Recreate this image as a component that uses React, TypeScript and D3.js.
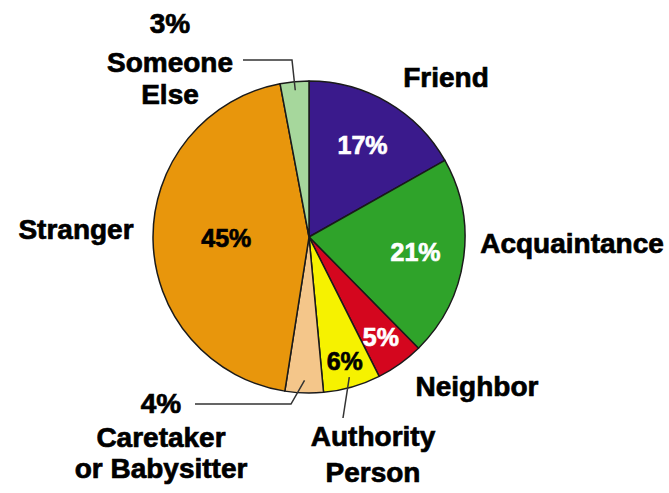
import { useEffect, useRef } from 'react';
import * as d3 from 'd3';

// slice order, clockwise from 12 o'clock
const categories = ['Friend', 'Acquaintance', 'Neighbor', 'Authority Person', 'Caretaker or Babysitter', 'Stranger', 'Someone Else'];
const percents = [17, 21, 5, 6, 4, 45, 3];
const colors = ['#3a1a8c', '#2fa32a', '#d4061e', '#f6f200', '#f4c68a', '#e8960c', '#a6d79c'];

// inner % labels (only for slices that show one inside)
const innerLabelColor = ['#ffffff', '#ffffff', '#ffffff', '#000000', null, '#000000', null];
const innerLabelRadius = [0.68, 0.69, 0.79, 0.83, 0, 0.53, 0];

interface Slice {
  name: string;
  value: number;
}

export default function App() {
  const svgRef = useRef<SVGSVGElement>(null);

  useEffect(() => {
    if (!svgRef.current) return;
    const svg = d3.select(svgRef.current);
    svg.selectAll('*').remove();

    const width = 669;
    const height = 493;
    const cx = 309;
    const cy = 237;
    const radius = 156;
    const font = "'Liberation Sans', Arial, sans-serif";

    const data: Slice[] = categories.map((c, i) => ({ name: c, value: percents[i] }));

    const pie = d3.pie<Slice>().value(d => d.value).sort(null);
    const arcs = pie(data);

    const arc = d3.arc<d3.PieArcDatum<Slice>>()
      .innerRadius(0)
      .outerRadius(radius);

    svg.append('rect').attr('width', width).attr('height', height).attr('fill', '#ffffff');

    const g = svg.append('g').attr('transform', `translate(${cx},${cy})`);

    // slices
    g.selectAll('path')
      .data(arcs)
      .join('path')
      .attr('d', arc)
      .attr('fill', (_, i) => colors[i])
      .attr('stroke', '#1a1a1a')
      .attr('stroke-width', 1.5)
      .attr('stroke-linejoin', 'round');

    // inner percentage labels
    arcs.forEach((d, i) => {
      if (!innerLabelColor[i]) return;
      const r = radius * innerLabelRadius[i];
      const a = d3.arc<d3.PieArcDatum<Slice>>().innerRadius(r).outerRadius(r);
      const [x, y] = a.centroid(d);
      g.append('text')
        .attr('x', x)
        .attr('y', y)
        .attr('dy', '0.36em')
        .attr('text-anchor', 'middle')
        .style('font-family', font)
        .style('font-weight', 'bold')
        .style('font-size', '25px')
        .attr('fill', innerLabelColor[i] as string)
        .attr('stroke', innerLabelColor[i] as string)
        .attr('stroke-width', 0.7)
        .text(`${d.data.value}%`);
    });

    // helper: point inside a slice at a radius fraction (absolute coords)
    const pointIn = (i: number, frac: number) => {
      const r = radius * frac;
      const a = d3.arc<d3.PieArcDatum<Slice>>().innerRadius(r).outerRadius(r);
      const [x, y] = a.centroid(arcs[i]);
      return [x + cx, y + cy];
    };

    // leader lines
    const line = d3.line();
    const leader = (pts: [number, number][]) => {
      svg.append('path')
        .attr('d', line(pts))
        .attr('fill', 'none')
        .attr('stroke', '#333333')
        .attr('stroke-width', 1.5);
    };
    const pElse = pointIn(6, 0.945);
    leader([[243, 60], [292, 60], [pElse[0], pElse[1]]]);
    const pCare = pointIn(4, 0.92);
    leader([[195, 404], [291, 404], [pCare[0], pCare[1]]]);
    const pAuth = pointIn(3, 0.935);
    leader([[pAuth[0], pAuth[1]], [343, 418]]);

    // outer labels
    const label = (x: number, y: number, lines: string[], lh = 36, anchor = 'middle') => {
      const t = svg.append('text')
        .attr('x', x)
        .attr('y', y)
        .attr('text-anchor', anchor)
        .style('font-family', font)
        .style('font-weight', 'bold')
        .style('font-size', '28px')
        .attr('fill', '#000000')
        .attr('stroke', '#000000')
        .attr('stroke-width', 0.7);
      lines.forEach((l, k) => {
        t.append('tspan').attr('x', x).attr('y', y + k * lh).text(l);
      });
    };

    label(170, 33, [`${percents[6]}%`], 36);
    label(170, 72, ['Someone', 'Else'], 32);
    label(446, 87, [categories[0]]);
    label(76, 239, [categories[5]]);
    label(572, 253, [categories[1]]);
    label(477, 396, [categories[2]]);
    label(373, 446, ['Authority', 'Person'], 36);
    label(161, 413, [`${percents[4]}%`]);
    label(161, 447, ['Caretaker', 'or Babysitter'], 31);
  }, []);

  return (
    <svg
      ref={svgRef}
      width={669}
      height={493}
      style={{ position: 'absolute', left: 0, top: 0, display: 'block' }}
    />
  );
}
